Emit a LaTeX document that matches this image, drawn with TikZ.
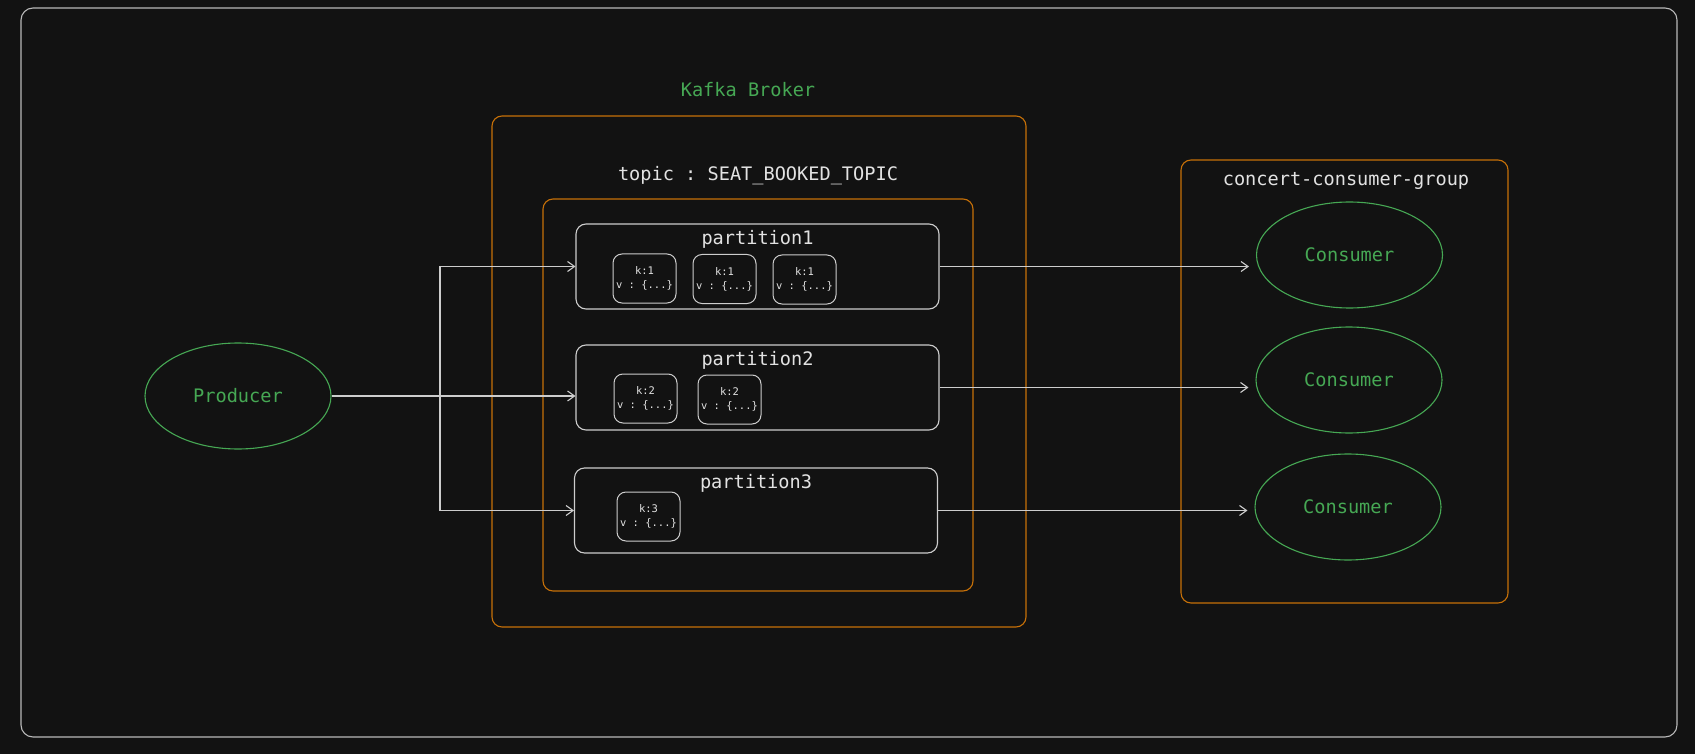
\documentclass[tikz,border=0pt]{standalone}
\usepackage{fontspec}
\setmonofont{DejaVu Sans Mono}
\usetikzlibrary{arrows.meta}
\usetikzlibrary{shapes.geometric}

\definecolor{bgdark}{RGB}{18,18,18}
\definecolor{linegray}{RGB}{205,205,205}
\definecolor{framegray}{RGB}{185,185,185}
\definecolor{kafkaorange}{RGB}{198,112,8}
\definecolor{kafkagreen}{RGB}{70,168,84}
\definecolor{txtwhite}{RGB}{226,226,226}

\begin{document}
\begin{tikzpicture}[x=1pt,y=-1pt]

	\tikzset{
		txt/.style={font=\ttfamily\fontsize{18.6}{22}\selectfont,text=txtwhite,inner sep=0pt},
		greentxt/.style={txt,text=kafkagreen},
		orangebox/.style={draw=kafkaorange,line width=1.1pt,rounded corners=10pt},
		partbox/.style={draw=linegray,line width=1.1pt,rounded corners=10pt,
			minimum width=363pt,minimum height=85pt,inner sep=0pt},
		recbox/.style={draw=linegray,line width=1pt,rounded corners=9pt,
			minimum width=63pt,minimum height=49pt,inner sep=0pt,align=center,
			text=txtwhite,font=\ttfamily\fontsize{10.5}{14}\selectfont},
		client/.style={ellipse,draw=kafkagreen,line width=1.1pt,
			minimum width=186pt,minimum height=106pt,inner sep=0pt,
			text=kafkagreen,font=\ttfamily\fontsize{18.6}{22}\selectfont},
		flow/.style={draw=linegray,line width=1.1pt,
			-{Straight Barb[length=7pt,width=10pt]}},
	}

	\fill[bgdark] (0,0) rectangle (1695,754);
	\useasboundingbox (0,0) rectangle (1695,754);
	\draw[framegray,line width=1.1pt,rounded corners=12pt] (21,8) rectangle (1677,737);

	% broker and topic
	\node[greentxt] (brokername) at (748,90) {Kafka Broker};
	\draw[orangebox] (492,116) rectangle (1026,627);
	\node[txt] (topicname) at (758,176) {topic : SEAT\_BOOKED\_TOPIC};
	\draw[orangebox] (543,199) rectangle (973,591);

	\node[partbox] (p1) at (757.5,266.5) {};
	\node[partbox] (p2) at (757.5,387.5) {};
	\node[partbox] (p3) at (756,510.5) {};
	\node[txt] (p1name) at ([yshift=-16pt]p1.north) {partition1};
	\node[txt] (p2name) at ([yshift=-16pt]p2.north) {partition2};
	\node[txt] (p3name) at ([yshift=-16pt]p3.north) {partition3};

	\node[recbox] (r11) at (644.5,278.5) {k:1\\v : \{...\}};
	\node[recbox] (r12) at (724.5,279) {k:1\\v : \{...\}};
	\node[recbox] (r13) at (804.5,279.5) {k:1\\v : \{...\}};
	\node[recbox] (r21) at (645.5,398.5) {k:2\\v : \{...\}};
	\node[recbox] (r22) at (729.5,399.5) {k:2\\v : \{...\}};
	\node[recbox] (r31) at (648.5,516.5) {k:3\\v : \{...\}};

	% consumer group
	\draw[orangebox] (1181,160) rectangle (1508,603);
	\node[txt] (groupname) at (1346,181) {concert-consumer-group};
	\node[client] (c1) at (1349.5,255) {Consumer};
	\node[client] (c2) at (1349,380) {Consumer};
	\node[client] (c3) at (1348,507) {Consumer};

	% producer
	\node[client] (prod) at (238,396) {Producer};
	\coordinate (fork) at (440,396);

	\draw[flow] (prod) -- (prod -| p2.west);
	\draw[flow] (fork) |- (p1);
	\draw[flow] (fork) |- (p3);

	\draw[flow,shorten >=7pt] (p1) -- (p1 -| c1.west);
	\draw[flow,shorten >=7pt] (p2) -- (p2 -| c2.west);
	\draw[flow,shorten >=7pt] (p3) -- (p3 -| c3.west);
\end{tikzpicture}
\end{document}
